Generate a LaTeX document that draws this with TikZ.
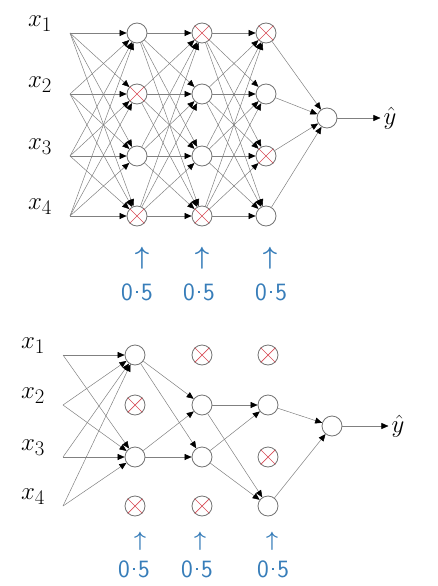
\documentclass[tikz,border=0pt]{standalone}
\usepackage{amsmath,amssymb}
\usepackage{fontspec}
\usepackage{tikz}
\usetikzlibrary{arrows.meta,positioning}

\definecolor{penblue}{RGB}{55,125,185}
\definecolor{dropred}{RGB}{215,75,85}

\newcommand{\halfrate}{0\kern1pt\raisebox{0.28em}{.}\kern1pt5}

\begin{document}
\begin{tikzpicture}[
  x=1pt, y=-1pt,
  unit/.style={draw=black!55, circle, line width=0.8pt, minimum size=20pt, inner sep=0pt},
  lbl/.style={font=\Huge, inner sep=1pt},
  edge/.style={draw=black!50, line width=0.5pt, -{Triangle[length=7pt,width=6pt,color=black]}},
  drop/.style={draw=dropred, line width=0.7pt},
  rate/.style={text=penblue, font=\sffamily\Huge, inner sep=0pt},
  up/.style={text=penblue, font=\Huge, inner sep=0pt}
]
\useasboundingbox (0,0) rectangle (437,586);

% top: full network, dropped units crossed out
\foreach \y [count=\i] in {33,94,156,216} {
  \coordinate (t0\i) at (70,\y);
  \node[lbl] (tx\i) at (40,\y-9) {$x_{\i}$};
  \foreach \l/\x in {1/137,2/202,3/266}
    \node[unit] (t\l\i) at (\x,\y) {};
}
\node[unit] (tout) at (327,118) {};
\node[lbl, inner sep=3pt] (tyhat) at (390,118) {$\hat{y}$};

\foreach \i in {1,...,4}
  \foreach \j in {1,...,4} {
    \draw[edge] (t0\i) -- (t1\j);
    \draw[edge] (t1\i) -- (t2\j);
    \draw[edge] (t2\i) -- (t3\j);
  }
\foreach \i in {1,...,4}
  \draw[edge] (t3\i) -- (tout);
\draw[edge] (tout) -- (tyhat);

\foreach \n in {t12,t14,t21,t24,t31,t33}
  \draw[drop] (\n.45) -- (\n.225) (\n.135) -- (\n.-45);

\foreach \x/\u [count=\k] in {137/142,199/202,271/270} {
  \node[up] (tup\k) at (\u,258) {$\boldsymbol{\uparrow}$};
  \node[rate] (tp\k) at (\x,292) {\halfrate};
}

% bottom: thinned network after dropout
\foreach \y [count=\i] in {355,405,457,506} {
  \coordinate (b0\i) at (63,\y);
  \node[lbl] (bx\i) at (33,\y-9) {$x_{\i}$};
  \foreach \l/\x in {1/135,2/202,3/268}
    \node[unit] (b\l\i) at (\x,\y) {};
}
\node[unit] (bout) at (332,426) {};
\node[lbl, inner sep=3pt] (byhat) at (398,426) {$\hat{y}$};

\foreach \i in {1,...,4}
  \foreach \j in {1,3}
    \draw[edge] (b0\i) -- (b1\j);
\foreach \i in {1,3}
  \foreach \j in {2,3}
    \draw[edge] (b1\i) -- (b2\j);
\foreach \i in {2,3}
  \foreach \j in {2,4}
    \draw[edge] (b2\i) -- (b3\j);
\foreach \i in {2,4}
  \draw[edge] (b3\i) -- (bout);
\draw[edge] (bout) -- (byhat);

\foreach \n in {b12,b14,b21,b24,b31,b33}
  \draw[drop] (\n.45) -- (\n.225) (\n.135) -- (\n.-45);

\foreach \x/\u [count=\k] in {134/140,197/200,273/272} {
  \node[up, font=\huge] (bup\k) at (\u,541) {$\boldsymbol{\uparrow}$};
  \node[rate] (bp\k) at (\x,569) {\halfrate};
}
\end{tikzpicture}
\end{document}
